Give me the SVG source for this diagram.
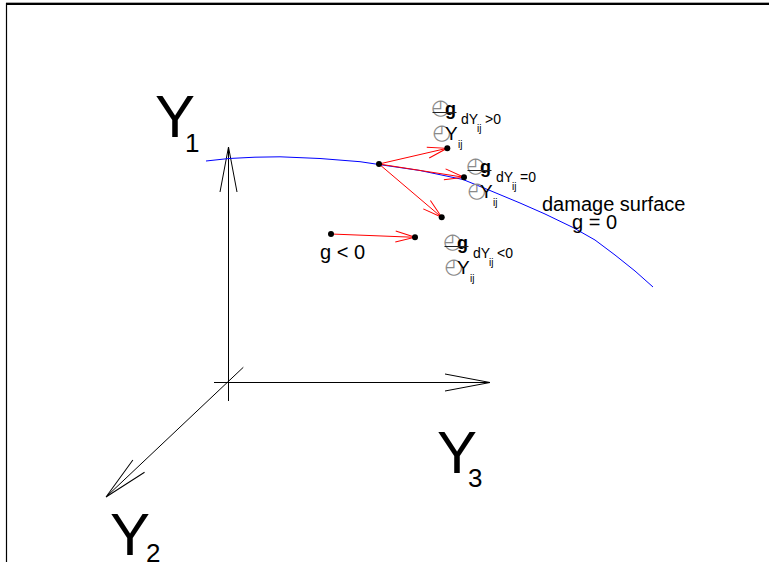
<svg xmlns="http://www.w3.org/2000/svg" width="769" height="562" viewBox="0 0 769 562">
<style>
text{font-family:"Liberation Sans",Arial,sans-serif;fill:#000}
.big{font-size:60px}
.sub{font-size:26px}
.lbl{font-size:20px}
.s14{font-size:14px}
.s10{font-size:10px}
.gg{font-size:18px;font-weight:bold}
.yy{font-size:19px}
.clk{font-family:"DejaVu Sans",sans-serif;font-size:21px;fill:#8a8a8a;text-anchor:middle}
.ax{stroke:#000;stroke-width:1;fill:none}
.red{stroke:#ff0000;stroke-width:1;fill:none}
.bar{stroke:#222;stroke-width:1}
.dot{fill:#000}
</style>
<defs>
<marker id="ah" markerUnits="userSpaceOnUse" orient="auto" refX="0" refY="0" markerWidth="60" markerHeight="30" overflow="visible">
<path d="M-45,-8.5 L0,0 L-45,8.5" fill="none" stroke="#000" stroke-width="1"/>
</marker>
<marker id="rh" markerUnits="userSpaceOnUse" orient="auto" refX="0" refY="0" markerWidth="30" markerHeight="20" overflow="visible">
<path d="M-19.5,-5.5 L0,0 L-19.5,5.5" fill="none" stroke="#ff0000" stroke-width="1"/>
</marker>
</defs>

<g id="frame">
<line x1="6" y1="2.5" x2="769" y2="2.5" stroke="#aaa" stroke-width="1"/>
<line x1="6" y1="4" x2="769" y2="4" stroke="#000" stroke-width="2"/>
<line x1="6.5" y1="3" x2="6.5" y2="562" stroke="#000" stroke-width="1.2"/>
</g>

<g id="connectors">
<line class="ax" x1="228.5" y1="401" x2="228.5" y2="147" marker-end="url(#ah)"/>
<line class="ax" x1="214" y1="382.5" x2="490" y2="382.5" marker-end="url(#ah)"/>
<line class="ax" x1="243.3" y1="367.3" x2="106" y2="497" marker-end="url(#ah)"/>
<polyline id="damage-curve" fill="none" stroke="#0000ff" stroke-width="1" points="206,161 229,158.5 255,157.2 280,156.8 320,158.5 360,161.7 379,164.5 420,170.5 463,179.5 490,190.5 520,203 545,214 573,227.5 595,240 615,255 635,271 653,287"/>
<line class="red" x1="379" y1="164" x2="447" y2="148.3" marker-end="url(#rh)"/>
<line class="red" x1="379" y1="164" x2="464" y2="177.3" marker-end="url(#rh)"/>
<line class="red" x1="379" y1="164" x2="441.7" y2="217.3" marker-end="url(#rh)"/>
<line class="red" x1="331" y1="234" x2="415" y2="237.3" marker-end="url(#rh)"/>
</g>

<g id="points">
<circle class="dot" cx="379" cy="164" r="3"/>
<circle class="dot" cx="447.3" cy="148.3" r="3"/>
<circle class="dot" cx="464" cy="177.3" r="3"/>
<circle class="dot" cx="441.7" cy="217.3" r="3"/>
<circle class="dot" cx="331" cy="234" r="3"/>
<circle class="dot" cx="415" cy="237.3" r="3"/>
</g>

<g id="axis-Y1"><text class="big" x="155" y="137">Y</text><text class="sub" x="185" y="152">1</text></g>
<g id="axis-Y3"><text class="big" x="437" y="473">Y</text><text class="sub" x="468" y="487">3</text></g>
<g id="axis-Y2"><text class="big" x="110" y="555">Y</text><text class="sub" x="146" y="562">2</text></g>

<g id="label-pos" transform="translate(440.5,108)">
<text class="clk" x="0" y="5.7">◴</text>
<text class="gg" x="4.5" y="7">g</text>
<line class="bar" x1="-8" y1="4.5" x2="16" y2="4.5"/>
<text class="s14" x="20.5" y="16">dY</text>
<text class="s10" x="36.5" y="24">ij</text>
<text class="s14" x="44.5" y="16">&gt;0</text>
<text class="clk" x="1.2" y="31">◴</text>
<text class="yy" x="4.5" y="32">Y</text>
<text class="s10" x="17.5" y="40">ij</text>
</g>
<g id="label-zero" transform="translate(475.5,166)">
<text class="clk" x="0" y="5.7">◴</text>
<text class="gg" x="4.5" y="7">g</text>
<line class="bar" x1="-8" y1="4.5" x2="16" y2="4.5"/>
<text class="s14" x="20.5" y="16">dY</text>
<text class="s10" x="36.5" y="24">ij</text>
<text class="s14" x="44.5" y="16">=0</text>
<text class="clk" x="1.2" y="31">◴</text>
<text class="yy" x="4.5" y="32">Y</text>
<text class="s10" x="17.5" y="40">ij</text>
</g>
<g id="label-neg" transform="translate(452.5,242)">
<text class="clk" x="0" y="5.7">◴</text>
<text class="gg" x="4.5" y="7">g</text>
<line class="bar" x1="-8" y1="4.5" x2="16" y2="4.5"/>
<text class="s14" x="20.5" y="16">dY</text>
<text class="s10" x="36.5" y="24">ij</text>
<text class="s14" x="44.5" y="16">&lt;0</text>
<text class="clk" x="1.2" y="31">◴</text>
<text class="yy" x="4.5" y="32">Y</text>
<text class="s10" x="17.5" y="40">ij</text>
</g>

<g id="surface-label"><text class="lbl" x="542" y="211">damage surface</text><text class="lbl" x="572" y="229">g = 0</text></g>
<g id="region-label"><text class="lbl" x="320" y="259">g &lt; 0</text></g>
</svg>
